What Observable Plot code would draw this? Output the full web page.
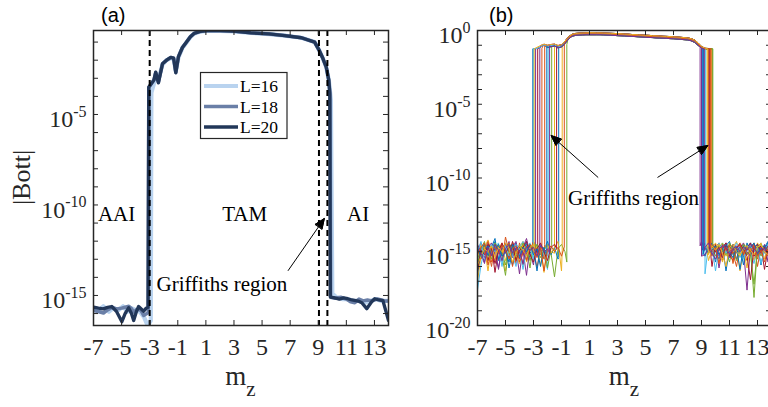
<!DOCTYPE html>
<html><head><meta charset="utf-8">
<script src="https://cdn.jsdelivr.net/npm/d3@7"></script>
<script src="https://cdn.jsdelivr.net/npm/@observablehq/plot@0.6"></script>
<style>
html,body{margin:0;padding:0;background:#fff;}
#wrap{position:relative;width:768px;height:407px;overflow:hidden;background:#fff;}
#wrap svg{position:absolute;top:0;overflow:visible;}
</style></head><body><div id="wrap"></div>
<script>
// ---------------- DATA ----------------
const xTicks = [-7,-5,-3,-1,1,3,5,7,9,11,13];

// panel (a): log10|Bott| versus m_z
const aSeriesNames = ["L=16","L=18","L=20"];
const aColors = ["#b9d3ef","#6a7fa7","#223759"];
const aM16 = [-7,-6.6,-6.3,-5.9,-5.6,-5.2,-4.9,-4.6,-4.3,-4.0,-3.7,-3.4,-3.15,-2.92,-2.88,-2.7,-2.57,-2.4,-2.09,-1.8,-1.5,-1.3,-1.14,-0.95,-0.67,-0.43,-0.1,0.16,0.6,1.1,2.0,3.0,4.2,5.5,6.6,7.8,8.74,9.07,9.3,9.57,9.75,9.9,10.0,10.3,10.7,11.1,11.5,11.9,12.3,12.7,13.1,13.5,14];
const aV16 = [-15.7,-15.8,-15.6,-15.9,-15.7,-15.8,-15.6,-15.9,-15.7,-15.8,-15.9,-16.2,-16.66,-16.4,-3.8,-3.3,-2.75,-3.1,-2.25,-2.0,-1.88,-1.92,-2.6,-1.85,-1.32,-1.08,-0.72,-0.54,-0.42,-0.38,-0.38,-0.41,-0.49,-0.56,-0.64,-0.76,-1.0,-1.46,-1.85,-2.39,-3.1,-4.2,-14.9,-15.1,-15.2,-15.2,-15.3,-15.3,-15.4,-15.3,-15.2,-15.3,-15.3];
const aM18 = [-7,-6.6,-6.29,-6.0,-5.69,-5.35,-5.0,-4.75,-4.48,-4.3,-4.14,-3.95,-3.8,-3.6,-3.43,-3.2,-3.1,-3.06,-2.7,-2.57,-2.38,-2.09,-1.8,-1.5,-1.3,-1.14,-0.95,-0.67,-0.43,-0.1,0.16,0.6,1.1,2.0,3.0,4.2,5.5,6.6,7.8,8.74,9.07,9.3,9.57,9.75,9.84,9.88,10.2,10.6,11.0,11.3,11.6,11.9,12.2,12.5,12.8,13.2,13.5,13.7,14];
const aV18 = [-15.83,-15.9,-15.97,-15.8,-15.66,-15.75,-15.7,-15.65,-15.6,-15.72,-15.92,-15.8,-15.75,-15.85,-16.1,-16.0,-15.95,-3.5,-3.1,-2.68,-3.22,-2.2,-2.0,-1.85,-1.88,-2.68,-1.8,-1.3,-1.05,-0.7,-0.52,-0.41,-0.37,-0.37,-0.4,-0.49,-0.55,-0.64,-0.76,-1.0,-1.46,-1.85,-2.39,-3.1,-3.9,-15.1,-15.15,-15.1,-15.2,-15.35,-15.4,-15.2,-15.3,-15.25,-15.3,-15.2,-15.25,-15.3,-15.3];
const aM20 = [-7,-6.65,-6.3,-6.0,-5.7,-5.35,-4.98,-4.75,-4.5,-4.3,-4.14,-3.95,-3.79,-3.6,-3.43,-3.25,-3.12,-3.07,-2.7,-2.57,-2.38,-2.09,-1.8,-1.5,-1.3,-1.14,-0.95,-0.67,-0.43,-0.1,0.16,0.6,1.1,2.0,3.0,4.2,5.5,6.6,7.8,8.74,9.07,9.3,9.57,9.75,9.82,9.86,10.1,10.5,10.8,11.1,11.4,11.84,12.1,12.45,12.8,13.02,13.3,13.6,14];
const aV20 = [-15.64,-15.7,-15.74,-15.66,-15.61,-15.9,-16.45,-16.0,-15.68,-16.0,-16.38,-15.9,-15.61,-15.75,-15.87,-15.7,-15.65,-3.5,-3.1,-2.66,-3.25,-2.2,-2.0,-1.85,-1.88,-2.7,-1.8,-1.3,-1.05,-0.7,-0.52,-0.41,-0.37,-0.37,-0.4,-0.49,-0.55,-0.64,-0.76,-1.0,-1.46,-1.85,-2.39,-3.1,-3.8,-15.09,-15.12,-15.2,-15.13,-15.18,-15.25,-15.31,-15.4,-15.73,-15.35,-15.18,-15.25,-15.28,-16.38];
const aDashes = [-3.0, 9.05, 9.65];
const aYDomain = [-16.66, -0.36];
const aDecades = [-16,-15,-14,-13,-12,-11,-10,-9,-8,-7,-6,-5,-4,-3,-2,-1];
const aLabelled = [-15,-10,-5];
const aNotes = [
  {m:-5.36, v:-10.9, t:"AAI"},
  {m:3.76, v:-10.9, t:"TAM"},
  {m:11.84, v:-10.9, t:"AI"},
  {m:2.14, v:-14.76, t:"Griffiths region"}
];
const aArrows = [{m1:6.86, v1:-13.62, m2:9.43, v2:-10.75}];

// panel (b): many disorder realizations
const bColors = ["#0072BD","#D95319","#EDB120","#7E2F8E","#77AC30","#4DBEEE","#A2142F"];
const bYDomain = [-20, 0];
const bDecades = [-20,-19,-18,-17,-16,-15,-14,-13,-12,-11,-10,-9,-8,-7,-6,-5,-4,-3,-2,-1,0];
const bLabelled = [-20,-15,-10,-5,0];
const bGridLeft = [-7,-6.75,-6.5,-6.25,-6,-5.75,-5.5,-5.25,-5,-4.75,-4.5,-4.25,-4,-3.75,-3.5,-3.25,-3,-2.75,-2.5,-2.25,-2,-1.75,-1.5,-1.25,-1,-0.75];
const bGridTop = [-3,-2.75,-2.5,-2.25,-2,-1.75,-1.5,-1.25,-1,-0.75,-0.5,-0.25,0,0.25,0.5,0.75,1,1.25,1.5,1.75,2,2.25,2.5,2.75,3,3.25,3.5,3.75,4,4.25,4.5,4.75,5,5.25,5.5,5.75,6,6.25,6.5,6.75,7,7.25,7.5,7.75,8,8.25,8.5,8.75,9,9.25,9.5,9.75];
const bGridRight = [9,9.25,9.5,9.75,10,10.25,10.5,10.75,11,11.25,11.5,11.75,12,12.25,12.5,12.75,13,13.25,13.5,13.75,14];
const bTopMid = [-1.24,-1.22,-1.12,-0.98,-1.1,-1.02,-0.98,-1.12,-1.05,-0.8,-0.5,-0.32,-0.26,-0.24,-0.23,-0.22,-0.22,-0.22,-0.22,-0.22,-0.23,-0.24,-0.25,-0.26,-0.28,-0.29,-0.3,-0.32,-0.33,-0.34,-0.36,-0.37,-0.39,-0.4,-0.41,-0.43,-0.44,-0.45,-0.46,-0.48,-0.49,-0.51,-0.53,-0.55,-0.57,-0.62,-0.72,-0.92,-1.15,-1.24,-1.24,-1.24];
const bTopHigh = [-1.2,-1.14,-1.02,-0.93,-1.0,-0.95,-0.92,-1.02,-0.97,-0.72,-0.43,-0.26,-0.2,-0.18,-0.17,-0.16,-0.15,-0.15,-0.16,-0.16,-0.17,-0.18,-0.19,-0.2,-0.21,-0.22,-0.24,-0.25,-0.27,-0.28,-0.29,-0.31,-0.32,-0.33,-0.35,-0.36,-0.37,-0.39,-0.4,-0.41,-0.43,-0.44,-0.46,-0.48,-0.5,-0.55,-0.64,-0.84,-1.08,-1.2,-1.22,-1.22];
const bTopLow = [-1.26,-1.26,-1.2,-1.06,-1.16,-1.1,-1.05,-1.18,-1.12,-0.88,-0.58,-0.39,-0.33,-0.31,-0.3,-0.29,-0.29,-0.29,-0.29,-0.29,-0.3,-0.31,-0.32,-0.33,-0.35,-0.36,-0.37,-0.39,-0.4,-0.41,-0.43,-0.44,-0.46,-0.47,-0.48,-0.5,-0.51,-0.52,-0.53,-0.55,-0.56,-0.58,-0.6,-0.62,-0.64,-0.69,-0.8,-1.0,-1.2,-1.26,-1.26,-1.26];
const bUp = [-3.05,-2.4,-1.5,-2.85,-0.62,-1.95,-2.7,-1.2,-2.2,-0.95,-2.55,-1.7,-3.0,-1.35,-2.05,-0.8,-2.95,-1.85];
const bUpLow = [-15.3,-14.8,-15.1,-14.6,-15.7,-15.0,-14.7,-15.4,-14.5,-14.9,-15.2,-14.6,-15.5,-14.8,-15.3,-14.7,-15.0,-15.1];
const bUpTop = [-1.24,-1.2,-1.0,-1.24,-0.95,-1.1,-1.24,-1.12,-1.05,-1.1,-1.18,-1.05,-1.24,-1.1,-1.08,-1.05,-1.24,-1.06];
const bDown = [9.05,9.5,9.7,8.9,9.8,9.25,9.6,9.15,9.75,9.4,9.0,9.8,9.3,9.55,9.1,9.65,9.45,9.2];
const bDownTop = [-1.2,-1.24,-1.24,-1.05,-1.24,-1.24,-1.24,-1.22,-1.24,-1.24,-1.18,-1.24,-1.24,-1.24,-1.21,-1.24,-1.24,-1.24];
const bDownLow = [-14.9,-14.5,-15.2,-14.6,-14.8,-16.5,-14.7,-15.1,-14.4,-15.0,-15.3,-14.7,-14.6,-15.0,-15.2,-14.8,-14.5,-14.9];
const bNoiseLeft = [
[-16.6,-15.0,-14.5,-15.3,-14.7,-14.1,-15.6,-14.9,-14.4,-15.1,-15.9,-14.8,-14.6,-15.2,-14.3,-15.5,-14.9,-14.2,-15.0,-15.7,-14.8,-14.5,-15.3,-14.7,-14.4,-15.1],
[-15.1,-14.6,-15.4,-14.8,-16.0,-14.5,-14.9,-15.6,-14.0,-15.0,-14.7,-15.8,-14.4,-15.1,-15.5,-14.6,-14.8,-16.1,-14.7,-14.3,-15.2,-14.9,-14.6,-15.4,-15.0,-14.5],
[-17.0,-15.3,-14.7,-14.2,-15.0,-15.6,-14.5,-14.8,-16.3,-14.9,-14.4,-15.1,-14.7,-14.3,-15.7,-15.0,-14.6,-15.3,-14.8,-16.4,-14.5,-15.0,-14.7,-14.2,-15.6,-14.9],
[-14.6,-15.2,-15.8,-14.4,-14.9,-14.7,-16.2,-14.6,-15.0,-14.3,-15.4,-14.8,-16.5,-14.7,-14.1,-15.1,-15.9,-14.7,-14.5,-15.2,-14.9,-16.0,-14.6,-14.8,-15.3,-14.4],
[-15.5,-14.8,-14.3,-15.6,-15.0,-14.5,-14.7,-15.3,-16.6,-14.4,-14.9,-15.5,-14.6,-15.0,-14.8,-16.1,-14.3,-14.7,-15.4,-14.9,-14.5,-15.1,-16.7,-14.8,-14.5,-15.0],
[-17.6,-15.9,-14.8,-14.5,-15.1,-14.7,-14.4,-15.7,-14.9,-14.6,-15.2,-16.0,-14.7,-14.3,-15.0,-14.8,-15.6,-14.5,-14.9,-15.3,-16.2,-14.6,-14.9,-14.4,-15.2,-15.6],
[-14.9,-14.4,-15.0,-15.6,-14.6,-16.4,-14.9,-14.5,-14.8,-15.4,-14.3,-15.0,-14.7,-15.9,-15.1,-14.5,-14.9,-14.7,-15.7,-14.4,-15.0,-15.5,-14.8,-15.8,-14.6,-14.7],
[-16.1,-14.7,-14.5,-15.2,-14.9,-14.3,-15.5,-14.8,-14.6,-16.1,-15.0,-14.4,-15.3,-14.7,-14.5,-15.1,-14.8,-16.3,-14.6,-14.9,-14.3,-15.2,-14.7,-15.5,-16.0,-14.8],
[-14.8,-15.5,-14.9,-14.3,-15.7,-15.0,-14.6,-15.2,-14.7,-14.4,-16.0,-14.8,-15.1,-14.5,-15.6,-14.9,-14.3,-15.1,-14.7,-15.5,-14.6,-16.5,-15.0,-14.4,-14.9,-15.3],
[-15.3,-14.5,-14.8,-16.3,-14.6,-15.1,-14.8,-14.4,-15.6,-14.9,-14.6,-15.2,-15.8,-14.5,-14.9,-14.7,-15.4,-14.6,-15.9,-14.8,-14.5,-15.1,-14.7,-14.3,-16.3,-14.9],
[-14.5,-15.0,-15.4,-14.7,-14.4,-15.2,-16.1,-14.8,-14.5,-15.0,-14.7,-14.3,-15.5,-14.9,-16.6,-14.6,-15.0,-14.8,-14.5,-15.3,-14.9,-14.6,-15.5,-15.0,-14.4,-15.8],
[-15.7,-15.1,-14.6,-14.9,-15.5,-14.4,-14.8,-15.1,-15.9,-14.5,-14.7,-15.3,-15.0,-14.4,-14.8,-15.6,-14.9,-14.5,-15.2,-14.7,-16.1,-14.8,-14.5,-15.1,-14.7,-14.4],
[-15.0,-14.3,-15.6,-14.8,-14.5,-15.0,-14.7,-16.0,-14.6,-15.3,-14.9,-14.5,-14.8,-16.2,-14.7,-14.4,-15.1,-15.5,-14.8,-14.6,-15.0,-14.7,-14.3,-15.4,-14.9,-15.6],
[-16.3,-14.9,-15.2,-14.5,-14.8,-15.8,-15.0,-14.4,-15.1,-14.7,-14.5,-15.6,-14.9,-14.7,-14.3,-15.2,-15.7,-14.8,-14.4,-15.0,-15.6,-14.7,-14.5,-16.1,-14.8,-15.0],
[-14.7,-15.4,-14.9,-14.6,-15.2,-14.8,-14.5,-15.3,-15.0,-15.7,-14.5,-14.9,-15.4,-14.7,-15.0,-14.5,-15.2,-14.8,-16.0,-14.7,-14.4,-15.3,-14.9,-14.7,-14.5,-15.2],
[-15.2,-14.7,-14.4,-15.9,-15.0,-14.7,-15.1,-14.6,-14.9,-15.5,-14.8,-14.6,-15.7,-15.1,-14.7,-14.5,-15.0,-15.4,-14.7,-16.3,-14.9,-14.6,-15.0,-14.7,-15.3,-14.5],
[-15.9,-15.3,-14.8,-15.0,-14.6,-15.4,-14.7,-15.0,-14.4,-14.8,-15.7,-15.1,-14.6,-14.9,-15.3,-14.7,-14.5,-15.0,-14.8,-14.4,-15.3,-15.0,-16.4,-14.7,-14.9,-15.7],
[-14.8,-15.1,-15.7,-14.7,-15.3,-14.5,-14.9,-15.6,-14.8,-14.5,-15.1,-14.7,-15.0,-15.8,-14.6,-14.9,-14.7,-15.3,-14.5,-15.0,-14.8,-15.4,-14.7,-14.6,-15.0,-15.9]
];
const bNoiseRight = [
[-14.8,-14.4,-15.1,-14.7,-15.7,-14.5,-15.0,-14.6,-14.3,-15.2,-14.7,-14.5,-15.4,-14.8,-14.4,-15.0,-14.6,-15.9,-14.7,-14.3,-14.9],
[-16.5,-15.0,-14.5,-15.3,-14.7,-14.4,-15.6,-14.9,-14.6,-15.1,-16.0,-14.7,-14.5,-15.2,-14.8,-14.4,-15.5,-14.7,-14.6,-15.3,-14.8],
[-15.1,-14.7,-15.8,-14.4,-15.0,-14.8,-14.5,-15.3,-14.9,-14.6,-14.7,-16.3,-15.0,-14.5,-14.8,-15.6,-14.4,-14.9,-14.7,-14.5,-15.2],
[-14.3,-14.9,-14.6,-15.2,-14.5,-16.1,-14.8,-14.4,-15.0,-14.7,-15.5,-14.6,-14.9,-17.6,-14.7,-14.5,-15.1,-14.8,-14.6,-15.0,-16.7],
[-15.6,-14.8,-15.0,-14.5,-15.3,-14.7,-14.4,-14.9,-15.7,-14.6,-15.0,-14.8,-14.5,-15.2,-14.9,-18.1,-14.6,-15.3,-14.8,-14.5,-14.7],
[-14.7,-15.9,-14.5,-14.8,-15.1,-14.4,-15.3,-14.7,-15.0,-14.5,-14.8,-15.4,-14.9,-14.6,-15.1,-15.8,-14.7,-14.4,-15.0,-15.6,-14.9],
[-15.0,-14.6,-15.3,-16.0,-14.5,-14.9,-14.7,-14.4,-15.2,-15.6,-14.8,-14.5,-15.1,-14.7,-14.4,-15.3,-14.9,-14.6,-16.2,-14.8,-14.5],
[-14.6,-15.3,-14.7,-14.4,-14.9,-15.5,-14.6,-16.3,-14.8,-14.5,-15.1,-14.7,-15.9,-14.4,-15.0,-14.7,-14.5,-15.1,-14.8,-14.4,-15.3],
[-15.3,-14.7,-14.4,-15.0,-14.8,-14.6,-15.2,-14.9,-14.5,-15.8,-14.7,-14.4,-15.0,-15.6,-14.9,-14.5,-16.0,-14.7,-15.1,-14.6,-14.8],
[-14.9,-14.5,-15.6,-14.8,-14.4,-15.0,-15.7,-14.6,-14.9,-14.7,-14.3,-15.2,-14.8,-16.1,-14.6,-14.9,-14.7,-14.4,-15.5,-14.7,-15.0],
[-16.0,-15.2,-14.7,-14.5,-14.9,-15.3,-14.6,-14.8,-15.4,-14.5,-14.9,-14.7,-14.4,-15.0,-15.3,-14.6,-14.8,-15.1,-14.5,-15.7,-14.9],
[-14.7,-15.0,-14.5,-15.4,-14.7,-14.6,-14.9,-15.2,-14.4,-14.8,-15.6,-14.9,-14.5,-14.7,-15.1,-17.2,-14.8,-14.5,-14.9,-14.7,-15.4],
[-15.2,-14.6,-14.9,-14.7,-16.3,-14.8,-14.5,-15.1,-14.7,-15.0,-14.4,-14.9,-15.5,-14.7,-14.6,-15.0,-14.7,-15.8,-14.9,-14.5,-14.8],
[-14.5,-15.1,-14.8,-14.6,-15.0,-14.7,-15.4,-14.5,-15.3,-14.9,-14.7,-14.5,-14.8,-15.3,-16.9,-14.7,-14.5,-15.0,-14.7,-15.1,-15.5],
[-15.4,-14.7,-15.1,-14.9,-14.6,-15.2,-14.8,-14.5,-15.0,-15.4,-14.7,-16.2,-14.6,-14.9,-14.7,-14.4,-15.2,-14.8,-14.6,-14.9,-14.7],
[-14.8,-15.5,-14.6,-15.0,-14.7,-15.8,-14.5,-14.9,-14.6,-15.1,-14.8,-14.5,-15.2,-14.7,-15.0,-14.6,-15.3,-14.9,-15.7,-14.8,-14.6],
[-15.1,-14.8,-15.2,-14.6,-14.9,-14.5,-15.1,-16.0,-14.7,-14.5,-15.0,-15.3,-14.7,-14.6,-14.9,-15.2,-14.7,-14.5,-15.0,-15.2,-14.9],
[-14.9,-14.7,-14.4,-15.1,-15.5,-14.8,-14.6,-14.7,-15.2,-14.8,-14.6,-15.0,-14.7,-14.9,-14.5,-14.8,-15.1,-14.7,-14.9,-14.6,-16.6]
];
const bNotes = [{m:4.14, v:-11.86, t:"Griffiths region"}];
const bArrows = [
  {m1:1.6, v1:-9.95, m2:-1.74, v2:-7.12},
  {m1:5.88, v1:-9.95, m2:9.45, v2:-7.8}
];

// ---------------- DRAWING ----------------
const NS = "http://www.w3.org/2000/svg";
const SERIF = "'Liberation Serif','Times New Roman',serif";
const SANS = "'Liberation Sans',Arial,sans-serif";
const AX = "#262626";
const W = 392, H = 407, MT = 30, MB = 82;
const plotH = H - MT - MB;

const pow = v => Math.pow(10, v);
const zip = (ms, vs) => ms.map((m, i) => ({m, b: pow(vs[i])}));

function boxMarks(decades, labelled, plotW) {
  return [
    Plot.ruleX(xTicks, {x: d => d, insetTop: plotH - 5, stroke: AX, strokeWidth: 1}),
    Plot.ruleX(xTicks, {x: d => d, insetBottom: plotH - 5, stroke: AX, strokeWidth: 1}),
    Plot.ruleY(decades.map(pow), {y: d => d, insetRight: plotW - 5, stroke: AX, strokeWidth: 1}),
    Plot.ruleY(decades.map(pow), {y: d => d, insetLeft: plotW - 5, stroke: AX, strokeWidth: 1}),
    Plot.axisX(xTicks, {tickSize: 0, tickPadding: 12, tickFormat: d => String(d), label: null, color: AX}),
    Plot.axisY(labelled.map(pow), {tickSize: 0, tickPadding: 7, tickFormat: d => "10^" + Math.round(Math.log10(d)), label: null, color: AX}),
    Plot.frame({stroke: AX, strokeWidth: 1.5})
  ];
}
function noteMarks(notes, arrows) {
  return [
    Plot.text(notes, {x: "m", y: d => pow(d.v), text: "t", fontSize: 21, lineAnchor: "bottom", fill: "#000"}),
    Plot.arrow(arrows, {x1: "m1", y1: d => pow(d.v1), x2: "m2", y2: d => pow(d.v2), stroke: "#000", strokeWidth: 1, headLength: 16, headAngle: 45})
  ];
}
function post(svg) {
  svg.querySelectorAll('g[aria-label="y-axis tick label"] text').forEach(t => {
    const s = t.textContent;
    const e = s.split("^")[1];
    t.textContent = "10";
    t.setAttribute("y", "12.7");
    const ts = document.createElementNS(NS, "tspan");
    ts.setAttribute("dy", "-10.3");
    ts.setAttribute("font-size", "16");
    ts.textContent = e;
    t.appendChild(ts);
  });
  svg.querySelectorAll('g[aria-label="arrow"] path').forEach(p => {
    const n = (p.getAttribute("d").match(/-?\d*\.?\d+(?:e-?\d+)?/g) || []).map(Number);
    if (n.length < 6) return;
    const [x3, y3, x2, y2, x4, y4] = n.slice(-6);
    const h = document.createElementNS(NS, "path");
    h.setAttribute("d", `M${x3},${y3}L${x2},${y2}L${x4},${y4}Z`);
    h.setAttribute("fill", "#000");
    h.setAttribute("stroke", "#000");
    h.setAttribute("stroke-width", "1");
    p.parentNode.appendChild(h);
  });
}
function addText(svg, attrs, text, sub) {
  const t = document.createElementNS(NS, "text");
  for (const k in attrs) t.setAttribute(k, attrs[k]);
  t.textContent = text;
  if (sub) {
    const ts = document.createElementNS(NS, "tspan");
    ts.setAttribute("dy", "11");
    ts.setAttribute("font-size", "21");
    ts.textContent = sub;
    t.appendChild(ts);
  }
  svg.appendChild(t);
  return t;
}

// ---- panel (a)
const plotWA = W - 93 - 4;
const aSeries = [zip(aM16, aV16), zip(aM18, aV18), zip(aM20, aV20)];
const aWidths = [4.2, 3.5, 3.3];
const svgA = Plot.plot({
  width: W, height: H,
  marginLeft: 93, marginRight: 4, marginTop: MT, marginBottom: MB,
  style: {fontFamily: SERIF, fontSize: "24px", background: "none", color: AX, overflow: "visible"},
  x: {domain: [-7, 14]},
  y: {type: "log", domain: aYDomain.map(pow)},
  marks: [
    ...aSeries.map((s, i) => Plot.line(s, {x: "m", y: "b", stroke: aColors[i], strokeWidth: aWidths[i], clip: true})),
    Plot.ruleX(aDashes, {x: d => d, stroke: "#000", strokeWidth: 2, strokeDasharray: "6,4"}),
    ...noteMarks(aNotes, aArrows),
    ...boxMarks(aDecades, aLabelled, plotWA)
  ]
});
svgA.style.left = "0px";
post(svgA);
// legend
{
  const g = document.createElementNS(NS, "g");
  g.setAttribute("text-anchor", "start");
  const r = document.createElementNS(NS, "rect");
  Object.entries({x: 200.5, y: 72.5, width: 86.5, height: 66, fill: "#fff", stroke: AX, "stroke-width": 1.2}).forEach(([k, v]) => r.setAttribute(k, v));
  g.appendChild(r);
  aSeriesNames.forEach((name, i) => {
    const y = 86 + i * 20.5;
    const l = document.createElementNS(NS, "line");
    Object.entries({x1: 204, x2: 238, y1: y, y2: y, stroke: aColors[i], "stroke-width": aWidths[i]}).forEach(([k, v]) => l.setAttribute(k, v));
    g.appendChild(l);
    const t = document.createElementNS(NS, "text");
    Object.entries({x: 240, y: y + 6, "text-anchor": "start", "font-family": SERIF, "font-size": 17.5, fill: "#000"}).forEach(([k, v]) => t.setAttribute(k, v));
    t.textContent = name;
    g.appendChild(t);
  });
  svgA.appendChild(g);
}
addText(svgA, {transform: "translate(30,177.5) rotate(-90)", "text-anchor": "middle", "font-family": SERIF, "font-size": 26, fill: AX}, "|Bott|");
addText(svgA, {x: 93 + plotWA / 2, y: 385, "text-anchor": "middle", "font-family": SERIF, "font-size": 27, fill: AX}, "m", "z");
addText(svgA, {x: 101, y: 22, "text-anchor": "start", "font-family": SANS, "font-size": 20, fill: "#000"}, "(a)");

// ---- panel (b)
const plotWB = W - 85 - 13;
const bTopVariants = [bTopMid, bTopHigh, bTopLow];
function seriesB(i) {
  const top = bTopVariants[i % 3];
  const pts = [];
  bGridLeft.forEach((m, k) => { if (m < bUp[i]) pts.push({m, b: pow(bNoiseLeft[i][k])}); });
  pts.push({m: bUp[i], b: pow(bUpLow[i])}, {m: bUp[i], b: pow(bUpTop[i])});
  bGridTop.forEach((m, k) => { if (m > bUp[i] && m < bDown[i]) pts.push({m, b: pow(top[k])}); });
  pts.push({m: bDown[i], b: pow(bDownTop[i])}, {m: bDown[i], b: pow(bDownLow[i])});
  bGridRight.forEach((m, k) => { if (m > bDown[i]) pts.push({m, b: pow(bNoiseRight[i][k])}); });
  return pts;
}
const svgB = Plot.plot({
  width: W, height: H,
  marginLeft: 85, marginRight: 13, marginTop: MT, marginBottom: MB,
  style: {fontFamily: SERIF, fontSize: "24px", background: "none", color: AX, overflow: "visible"},
  x: {domain: [-7, 14]},
  y: {type: "log", domain: bYDomain.map(pow)},
  marks: [
    ...bUp.map((_, i) => Plot.line(seriesB(i), {x: "m", y: "b", stroke: bColors[i % bColors.length], strokeWidth: 1, clip: true})),
    ...noteMarks(bNotes, bArrows),
    ...boxMarks(bDecades, bLabelled, plotWB)
  ]
});
svgB.style.left = "392px";
post(svgB);
addText(svgB, {x: 85 + plotWB / 2, y: 385, "text-anchor": "middle", "font-family": SERIF, "font-size": 27, fill: AX}, "m", "z");
addText(svgB, {x: 97, y: 22, "text-anchor": "start", "font-family": SANS, "font-size": 20, fill: "#000"}, "(b)");

const wrap = document.getElementById("wrap");
wrap.appendChild(svgA);
wrap.appendChild(svgB);
</script>
</body></html>
